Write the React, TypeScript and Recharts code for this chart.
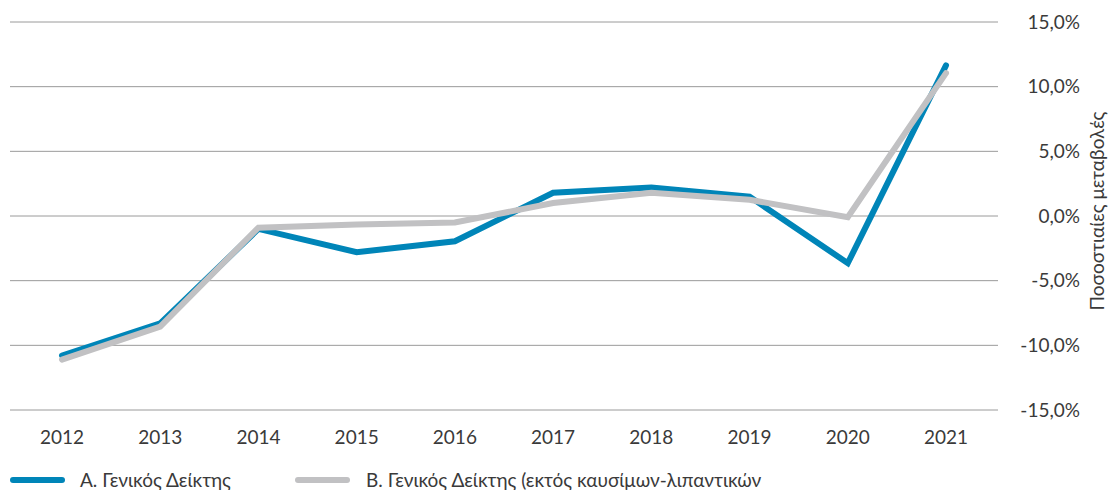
import { CartesianGrid, Label, Legend, Line, LineChart, XAxis, YAxis } from "recharts";

const years = ["2012", "2013", "2014", "2015", "2016", "2017", "2018", "2019", "2020", "2021"];
const generalIndex = [-10.8, -8.3, -1.0, -2.8, -1.95, 1.8, 2.2, 1.5, -3.65, 11.65];
const exFuelIndex = [-11.1, -8.55, -0.9, -0.65, -0.5, 1.0, 1.8, 1.25, -0.1, 11.05];
const yTicks = [-15, -10, -5, 0, 5, 10, 15];

const seriesNames = ["Α. Γενικός Δείκτης", "Β. Γενικός Δείκτης (εκτός καυσίμων-λιπαντικών"];
const axisTitle = "Ποσοστιαίες μεταβολές";

const BLUE = "#0085b8";
const GREY = "#c1c1c3";
const TEXT = "#3a3a3a";
const FONT = "Lato, 'Noto Sans', sans-serif";

const data = years.map((year, i) => ({
  year,
  general: generalIndex[i],
  exFuel: exFuelIndex[i],
}));

function formatPct(v: number): string {
  return `${v.toFixed(1).replace(".", ",")}%`;
}

function RightTick({ x, y, payload }: any) {
  return (
    <text x={x + 74} y={y} dy="0.35em" textAnchor="end" fill={TEXT} fontSize={19} fontFamily={FONT}>
      {formatPct(payload.value)}
    </text>
  );
}

function AxisTitle() {
  return (
    <text
      x={1097}
      y={211}
      transform="rotate(-90 1097 211)"
      textAnchor="middle"
      dy="0.35em"
      fill={TEXT}
      fontSize={19}
      fontFamily={FONT}
    >
      {axisTitle}
    </text>
  );
}

function ChartLegend() {
  const colors = [BLUE, GREY];
  const lineStart = [10, 295];
  const textStart = [80, 366];
  return (
    <svg width={900} height={30} style={{ display: "block" }}>
      {seriesNames.map((name, i) => (
        <g key={name}>
          <line
            x1={lineStart[i] + 3}
            x2={lineStart[i] + 52}
            y1={15}
            y2={15}
            stroke={colors[i]}
            strokeWidth={6}
            strokeLinecap="round"
          />
          <text x={textStart[i]} y={15} dy="0.35em" fill={TEXT} fontSize={19} fontFamily={FONT}>
            {name}
          </text>
        </g>
      ))}
    </svg>
  );
}

export default function App() {
  return (
    <div style={{ position: "absolute", left: 0, top: 0, background: "#fff" }}>
      <LineChart
        width={1110}
        height={490}
        data={data}
        margin={{ top: 22, right: 0, bottom: 0, left: 10 }}
        style={{ fontFamily: FONT }}
      >
        <CartesianGrid horizontal vertical={false} stroke="#9a9a9a" strokeWidth={1} />
        <XAxis
          dataKey="year"
          height={80}
          axisLine={false}
          tickLine={false}
          tickMargin={15}
          padding={{ left: 52, right: 52 }}
          tick={{ fill: TEXT, fontSize: 19, fontFamily: FONT }}
        />
        <YAxis
          orientation="right"
          width={112}
          domain={[-15, 15]}
          ticks={yTicks}
          axisLine={false}
          tickLine={false}
          tick={<RightTick />}
        >
          <Label content={<AxisTitle />} />
        </YAxis>
        <Legend
          layout="horizontal"
          verticalAlign="middle"
          align="center"
          content={<ChartLegend />}
          wrapperStyle={{ top: 465, left: 0, width: 900, height: 30 }}
        />
        <Line
          type="linear"
          dataKey="general"
          name={seriesNames[0]}
          stroke={BLUE}
          strokeWidth={6}
          strokeLinecap="round"
          dot={false}
          activeDot={false}
          isAnimationActive={false}
        />
        <Line
          type="linear"
          dataKey="exFuel"
          name={seriesNames[1]}
          stroke={GREY}
          strokeWidth={6}
          strokeLinecap="round"
          dot={false}
          activeDot={false}
          isAnimationActive={false}
        />
      </LineChart>
    </div>
  );
}
